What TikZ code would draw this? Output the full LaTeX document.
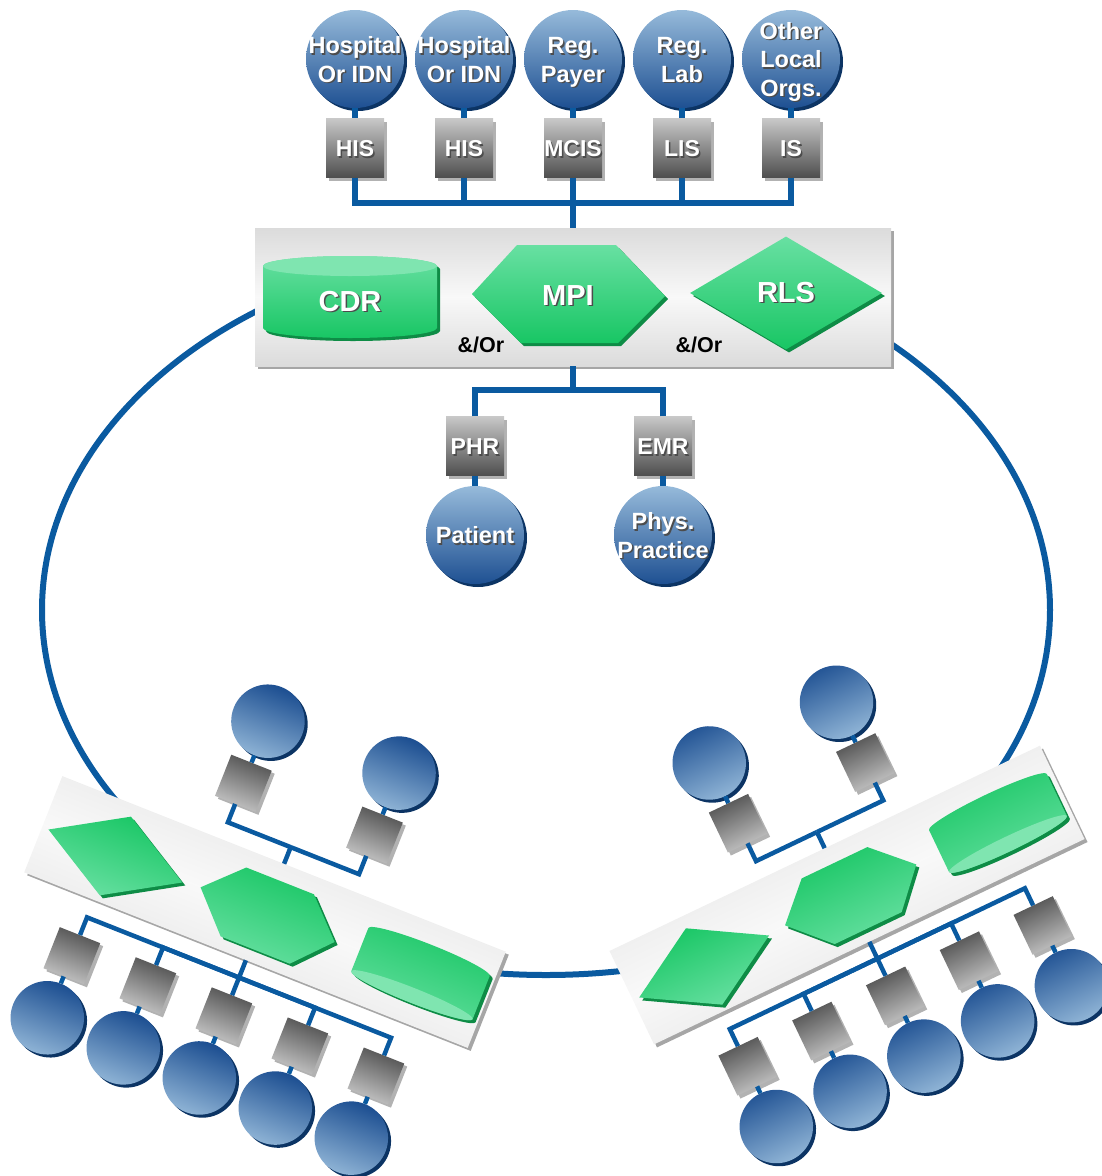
\documentclass[tikz,border=0pt]{standalone}
\usepackage{fontspec}
\setmainfont{Liberation Sans}
\usetikzlibrary{shadows,shapes.geometric}

\definecolor{busblue}{RGB}{10,90,160}
\definecolor{orglight}{RGB}{150,186,218}
\definecolor{orgdark}{RGB}{30,80,146}
\definecolor{orgrim}{RGB}{12,52,100}
\definecolor{syslight}{RGB}{200,200,200}
\definecolor{sysdark}{RGB}{78,78,78}
\definecolor{grnlight}{RGB}{104,224,162}
\definecolor{grndark}{RGB}{24,198,100}
\definecolor{grnrim}{RGB}{14,140,70}

\newif\ifhublabels \hublabelstrue
\def\hubang{0}
\newcommand\lbl[1]{\ifhublabels\leavevmode\makebox[0pt]{\raisebox{-4pt}[\height][\depth]{%
  \rlap{\kern1.5pt\raisebox{-1.5pt}{\color{black!70}\begin{tabular}{@{}c@{}}#1\end{tabular}}}%
  \begin{tabular}{@{}c@{}}#1\end{tabular}}}\fi}

\tikzset{
  hub/.pic={
    \node[panel] (pn) at (0,0) {};
    % CDR
    \path[grn] (-310,-31) -- (-310,31) arc[start angle=180, end angle=0, x radius=87, y radius=10]
      -- (-136,-31) arc[start angle=0, end angle=-180, x radius=87, y radius=10] -- cycle;
    \fill[grnlight!85!white] (-223,-31) ellipse[x radius=87, y radius=10];
    \node[bigtxt] (cdr) at (-223,5) {\lbl{CDR}};
    % MPI
    \path[grn] (-101,-3) -- (-56,-52) -- (43,-52) -- (92,-1) -- (45,46) -- (-52,46) -- cycle;
    \node[bigtxt] (mpi) at (-5,-1) {\lbl{MPI}};
    % RLS
    \node[grn, bigtxt, diamond, inner sep=0pt, minimum width=192pt, minimum height=113pt] (rls) at (213,-4) {\lbl{RLS}};
    \node[andor] (or1) at (-92,48) {\ifhublabels\&/Or\fi};
    \node[andor] (or2) at (126,48) {\ifhublabels\&/Or\fi};
    \coordinate (tb) at (0,-94);
    \coordinate (bb) at (0,93);
    \draw[bus] (tb) -- (pn);
    \draw[bus] (pn) -- (bb);
    \foreach \i/\x/\o/\s in {1/-218/{Hospital\\Or IDN}/HIS, 2/-109/{Hospital\\Or IDN}/HIS,
        3/0/{Reg.\\Payer}/MCIS, 4/109/{Reg.\\Lab}/LIS, 5/218/{Other\\Local\\Orgs.}/IS}{
      \node[org] (c\i) at (\x,-238) {\lbl{\o}};
      \node[sys] (s\i) at (\x,-149) {\lbl{\s}};
      \draw[bus] (c\i) -- (s\i);
      \draw[bus] (s\i) |- (tb);
    }
    \foreach \s/\x/\t/\o/\u in {phr/-98/PHR/pat/Patient, emr/90/EMR/phy/{Phys.\\Practice}}{
      \node[sys] (\s) at (\x,149) {\lbl{\t}};
      \node[org] (\o) at (\x,238) {\lbl{\u}};
      \draw[bus] (\s) |- (bb);
      \draw[bus] (\s) -- (\o);
    }
  }
}

\begin{document}
\begin{tikzpicture}[x=1pt, y=-1pt,
    bus/.style={draw=busblue, line width=6pt},
    ring/.style={draw=busblue, line width=6pt},
    org/.style={circle, minimum size=98pt, inner sep=0pt, top color=orglight, bottom color=orgdark,
      shading angle=\hubang,
      drop shadow={shadow xshift=3pt, shadow yshift=-3pt, fill=orgrim, opacity=1},
      text=white, font=\fontsize{23.5}{28.5}\selectfont\bfseries},
    sys/.style={rectangle, minimum width=58pt, minimum height=59pt, inner sep=0pt,
      top color=syslight, bottom color=sysdark, shading angle=\hubang,
      drop shadow={shadow xshift=3pt, shadow yshift=-3pt, fill=gray!60, opacity=1},
      text=white, font=\fontsize{23}{28}\selectfont\bfseries},
    panel/.style={rectangle, minimum width=636pt, minimum height=138pt, inner sep=0pt,
      top color=gray!28, bottom color=gray!28, middle color=gray!5, shading angle=\hubang,
      drop shadow={shadow xshift=3pt, shadow yshift=-3pt, fill=gray!70, opacity=1}},
    grn/.style={top color=grnlight, bottom color=grndark, shading angle=\hubang,
      drop shadow={shadow xshift=3pt, shadow yshift=-3pt, fill=grnrim, opacity=1}},
    bigtxt/.style={text=white, font=\fontsize{29}{31}\selectfont\bfseries},
    andor/.style={font=\fontsize{21.5}{24}\selectfont\bfseries},
    blank/.code={\hublabelsfalse},
    turned/.code={\def\hubang{#1}}]
  \useasboundingbox (0,0) rectangle (1101,1176);
  \draw[ring] (546,610) ellipse[x radius=504, y radius=365];

  \pic (top) at (573,297) {hub};
  \pic[blank, turned=158.4, bus/.append style={line width=4.5pt}, rotate=158.4, scale=0.75, transform shape] (west) at (265,912) {hub};
  \pic[blank, turned=205.5, bus/.append style={line width=4.5pt}, rotate=205.5, scale=0.75, transform shape] (east) at (847,895) {hub};
\end{tikzpicture}
\end{document}
